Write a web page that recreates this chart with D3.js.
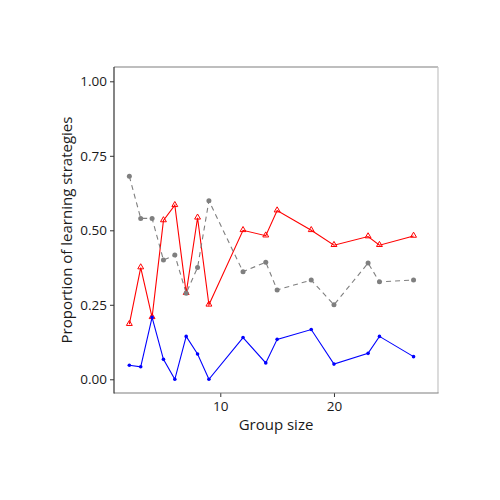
<!DOCTYPE html>
<html>
<head>
<meta charset="utf-8">
<script src="https://cdn.jsdelivr.net/npm/d3@7"></script>
<style>
  body { margin: 0; background: #fff; }
  text { font-family: "Open Sans", "Noto Sans", sans-serif; fill: #1a1a1a; }
</style>
</head>
<body>
<div id="chart"></div>
<script>
// group sizes and proportions of each learning strategy
var groupSizes = [2, 3, 4, 5, 6, 7, 8, 9, 12, 14, 15, 18, 20, 23, 24, 27];
var redValues  = [0.185, 0.375, 0.208, 0.533, 0.584, 0.289, 0.542, 0.25, 0.50, 0.482, 0.566, 0.50, 0.45, 0.479, 0.45, 0.481];
var greyValues = [0.681, 0.540, 0.540, 0.40, 0.417, 0.289, 0.375, 0.599, 0.361, 0.393, 0.30, 0.333, 0.25, 0.39, 0.327, 0.333];
var blueValues = [0.047, 0.042, 0.208, 0.067, 0, 0.144, 0.085, 0, 0.14, 0.055, 0.134, 0.167, 0.051, 0.087, 0.144, 0.076];
var yTicks = [0, 0.25, 0.5, 0.75, 1];
var yTickLabels = ["0.00", "0.25", "0.50", "0.75", "1.00"];
var xTicks = [10, 20];

var width = 500, height = 500;
var panel = { left: 114, right: 438, top: 67, bottom: 393 };

var svg = d3.select("#chart").append("svg")
    .attr("width", width)
    .attr("height", height);

var x = d3.scaleLinear()
    .domain([0.65, 29.15])
    .range([panel.left, panel.right]);

var y = d3.scaleLinear()
    .domain([-0.046, 1.048])
    .range([panel.bottom, panel.top]);

// panel border
svg.append("line")
    .attr("x1", panel.left).attr("x2", panel.right)
    .attr("y1", panel.top).attr("y2", panel.top)
    .attr("stroke", "#7f7f7f").attr("stroke-width", 1.2);
svg.append("line")
    .attr("x1", panel.right).attr("x2", panel.right)
    .attr("y1", panel.top).attr("y2", panel.bottom)
    .attr("stroke", "#c4c4c4").attr("stroke-width", 1.2);

var xAxis = d3.axisBottom(x)
    .tickValues(xTicks)
    .tickSize(4)
    .tickPadding(4);

var yAxis = d3.axisLeft(y)
    .tickValues(yTicks)
    .tickFormat(function(d, i) { return yTickLabels[i]; })
    .tickSize(4)
    .tickPadding(3);

var gx = svg.append("g")
    .attr("class", "x axis")
    .attr("transform", "translate(0," + panel.bottom + ")")
    .call(xAxis);
gx.select(".domain").remove();
gx.append("line")
    .attr("x1", panel.left).attr("x2", panel.right + 0.6)
    .attr("stroke", "#7f7f7f").attr("stroke-width", 1.2);
gx.selectAll(".tick line").attr("stroke", "#333");
gx.selectAll(".tick text").attr("font-size", 13.5).attr("fill", "#1a1a1a");

var gy = svg.append("g")
    .attr("class", "y axis")
    .attr("transform", "translate(" + panel.left + ",0)")
    .call(yAxis);
gy.select(".domain").remove();
gy.append("line")
    .attr("y1", panel.top).attr("y2", panel.bottom + 0.6)
    .attr("stroke", "#333").attr("stroke-width", 1.2);
gy.selectAll(".tick line").attr("stroke", "#333");
gy.selectAll(".tick text").attr("font-size", 13.5).attr("fill", "#1a1a1a");

// axis titles
svg.append("text")
    .attr("x", (panel.left + panel.right) / 2)
    .attr("y", 430)
    .attr("text-anchor", "middle")
    .attr("font-size", 15)
    .text("Group size");

svg.append("text")
    .attr("transform", "translate(72," + ((panel.top + panel.bottom) / 2) + ") rotate(-90)")
    .attr("text-anchor", "middle")
    .attr("font-size", 15)
    .text("Proportion of learning strategies");

var line = d3.line()
    .x(function(d) { return x(d[0]); })
    .y(function(d) { return y(d[1]); });

function pairs(values) {
    return groupSizes.map(function(g, i) { return [g, values[i]]; });
}

var plot = svg.append("g").attr("class", "plot");

// red series with open triangles
plot.append("path")
    .datum(pairs(redValues))
    .attr("d", line)
    .attr("fill", "none")
    .attr("stroke", "#ff0000")
    .attr("stroke-width", 1.1);
var tri = d3.symbol().type(d3.symbolTriangle).size(15);
plot.selectAll("path.red")
    .data(pairs(redValues))
    .enter().append("path")
    .attr("class", "red")
    .attr("d", tri)
    .attr("transform", function(d) { return "translate(" + x(d[0]) + "," + (y(d[1]) - 0.4) + ")"; })
    .attr("fill", "none")
    .attr("stroke", "#ff0000")
    .attr("stroke-width", 1);

// grey dashed series
plot.append("path")
    .datum(pairs(greyValues))
    .attr("d", line)
    .attr("fill", "none")
    .attr("stroke", "#7f7f7f")
    .attr("stroke-width", 1.1)
    .attr("stroke-dasharray", "5,4");
plot.selectAll("circle.grey")
    .data(pairs(greyValues))
    .enter().append("circle")
    .attr("class", "grey")
    .attr("cx", function(d) { return x(d[0]); })
    .attr("cy", function(d) { return y(d[1]); })
    .attr("r", 2.5)
    .attr("fill", "#7f7f7f");

// blue series
plot.append("path")
    .datum(pairs(blueValues))
    .attr("d", line)
    .attr("fill", "none")
    .attr("stroke", "#0000ff")
    .attr("stroke-width", 1.1);
plot.selectAll("circle.blue")
    .data(pairs(blueValues))
    .enter().append("circle")
    .attr("class", "blue")
    .attr("cx", function(d) { return x(d[0]); })
    .attr("cy", function(d) { return y(d[1]); })
    .attr("r", 1.8)
    .attr("fill", "#0000ff");
</script>
</body>
</html>
